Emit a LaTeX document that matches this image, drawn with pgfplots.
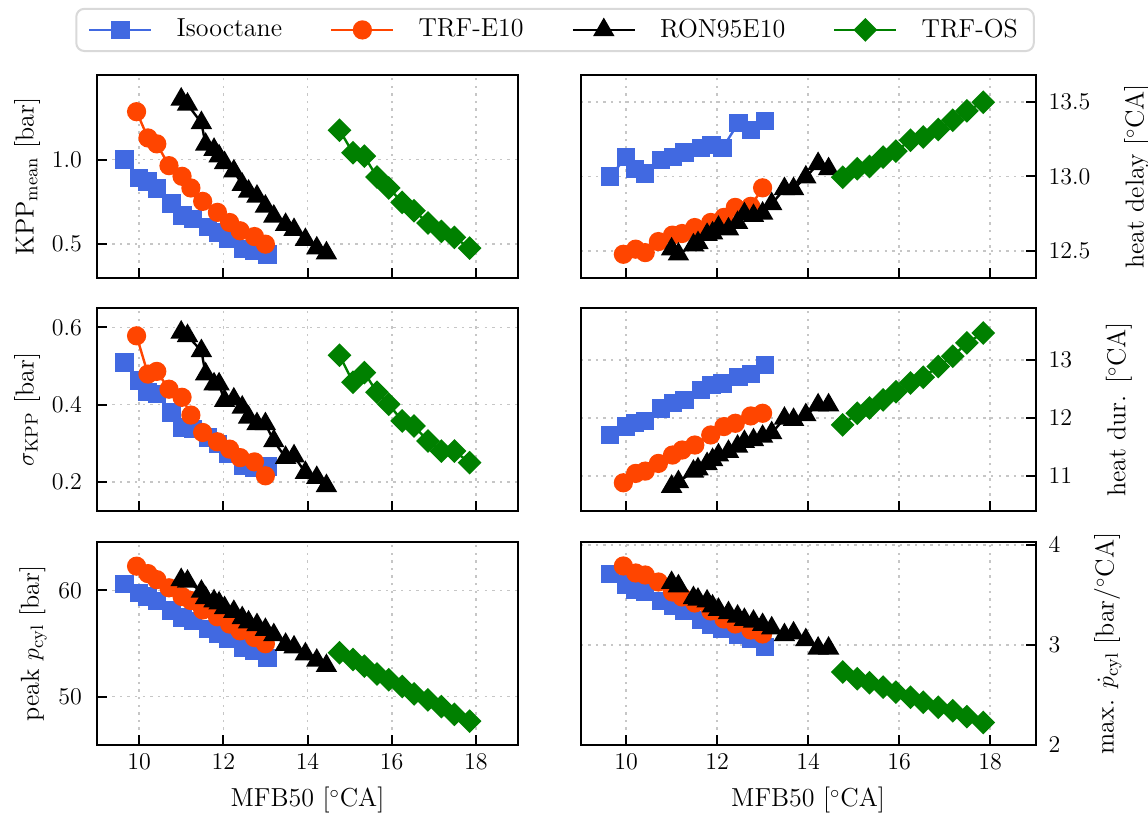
\documentclass[border=0pt]{standalone}
\usepackage{pgfplots}
\usepackage{pgfplotstable}
\pgfplotsset{compat=1.18}
\definecolor{cIso}{HTML}{4169E1}
\definecolor{cTrf}{HTML}{FF4500}
\definecolor{cOs}{HTML}{008000}
\newcommand{\fs}{\fontsize{13}{15}\selectfont}

% columns: a=KPPmean, b=heat delay, c=sigmaKPP, d=heat dur, e=peak p, f=max dp
\pgfplotstableread{
x a b c d e f
9.65 1.00 13.00 0.509 11.71 60.63 3.707
10.00 0.89 13.13 0.462 11.85 59.75 3.606
10.20 0.87 13.05 0.432 11.91 59.43 3.556
10.42 0.83 13.02 0.427 11.95 58.98 3.530
10.77 0.74 13.11 0.380 12.16 58.10 3.437
11.03 0.67 13.13 0.341 12.26 57.46 3.387
11.28 0.65 13.16 0.337 12.31 57.14 3.343
11.64 0.60 13.19 0.315 12.48 56.35 3.250
11.88 0.57 13.21 0.298 12.57 55.87 3.200
12.12 0.53 13.19 0.272 12.59 55.40 3.158
12.47 0.47 13.36 0.241 12.70 54.60 3.100
12.74 0.46 13.31 0.237 12.76 54.29 3.060
13.05 0.44 13.37 0.240 12.91 53.65 2.980
}\iso
\pgfplotstableread{
x a b c d e f
9.94 1.283 12.479 0.578 10.885 62.29 3.79
10.21 1.128 12.513 0.479 11.046 61.59 3.72
10.42 1.093 12.490 0.486 11.086 61.02 3.70
10.71 0.964 12.564 0.440 11.218 60.25 3.63
11.02 0.901 12.607 0.419 11.362 59.43 3.53
11.23 0.832 12.618 0.373 11.448 59.05 3.48
11.51 0.753 12.658 0.328 11.534 58.16 3.42
11.86 0.688 12.692 0.304 11.707 57.52 3.34
12.15 0.628 12.726 0.285 11.851 56.83 3.26
12.40 0.579 12.793 0.263 11.908 56.19 3.21
12.74 0.545 12.800 0.252 12.034 55.56 3.15
13.00 0.500 12.924 0.216 12.080 54.98 3.11
}\trf
\pgfplotstableread{
x a b c d e f
11.00 1.356 12.513 0.587 10.82 61.00 3.622
11.15 1.326 12.479 0.578 10.90 60.85 3.589
11.48 1.217 12.540 0.539 11.08 59.90 3.471
11.58 1.089 12.555 0.479 11.12 59.30 3.455
11.78 1.059 12.610 0.453 11.21 59.00 3.437
11.90 1.020 12.620 0.453 11.28 58.80 3.387
12.03 0.980 12.658 0.410 11.36 58.35 3.354
12.25 0.931 12.647 0.414 11.42 58.00 3.320
12.45 0.852 12.690 0.393 11.51 57.40 3.286
12.60 0.812 12.749 0.367 11.59 57.00 3.253
12.80 0.782 12.737 0.350 11.62 56.75 3.235
13.00 0.723 12.753 0.350 11.68 56.30 3.202
13.20 0.664 12.816 0.306 11.74 55.80 3.168
13.48 0.615 12.917 0.263 11.99 54.90 3.100
13.68 0.585 12.917 0.267 11.97 54.65 3.118
13.95 0.526 12.995 0.224 12.05 54.00 3.050
14.22 0.476 13.085 0.211 12.22 53.40 2.966
14.45 0.447 13.050 0.190 12.22 52.90 2.966
}\ron
\pgfplotstableread{
x a b c d e f
14.76 1.174 12.995 0.528 11.88 54.13 2.730
15.08 1.040 13.052 0.458 12.08 53.49 2.663
15.35 1.020 13.067 0.483 12.17 52.86 2.622
15.65 0.897 13.130 0.432 12.31 52.13 2.579
15.93 0.832 13.170 0.401 12.45 51.59 2.528
16.25 0.747 13.243 0.358 12.60 50.95 2.478
16.53 0.698 13.265 0.345 12.70 50.25 2.427
16.86 0.625 13.315 0.306 12.885 49.68 2.377
17.18 0.575 13.377 0.280 13.06 49.05 2.343
17.49 0.540 13.440 0.280 13.29 48.32 2.283
17.85 0.477 13.497 0.250 13.46 47.68 2.225
}\os

\pgfplotsset{
  base/.style={
    scale only axis, height=101.5pt,
    xmin=9, xmax=19, xtick={10,12,14,16,18},
    grid=major,
    major grid style={gray!45, line width=0.8pt, dash pattern=on 1.2pt off 2.6pt},
    tick align=inside, xtick pos=bottom,
    axis line style={line width=1.1pt},
    major tick length=5pt,
    every tick/.style={black, line width=1pt},
    tick label style={font=\fs},
    label style={font=\fs},
  },
  L/.style={base, width=210.5pt, ytick pos=left, yticklabel shift=3pt, ylabel shift=-3pt},
  R/.style={base, width=227.5pt, ytick pos=right, yticklabel pos=right,
    yticklabel shift=2pt, ylabel shift=8pt},
  dec1/.style={yticklabel style={/pgf/number format/.cd, fixed, fixed zerofill, precision=1}},
  sIso/.style={color=cIso, line width=1.2pt, mark=square*, mark size=4pt, mark options={solid}},
  sTrf/.style={color=cTrf, line width=1.2pt, mark=*, mark size=4.2pt, mark options={solid}},
  sRon/.style={color=black, line width=1.2pt, mark=triangle*, mark size=5pt, mark options={solid}},
  sOs/.style={color=cOs, line width=1.2pt, mark=square*, mark size=3.6pt, mark options={solid, rotate=45}},
}

\begin{document}
\fs
\begin{tikzpicture}
\path[use as bounding box] (0,0) rectangle (574pt,-411pt);

% Row 1 left
\begin{axis}[L, dec1, at={(48.5pt,-37.5pt)}, anchor=north west,
  ymin=0.3, ymax=1.5, ytick={0.5,1.0},
  ylabel={KPP$_{\mathrm{mean}}$ [bar]}, xticklabels={},
  legend columns=4,
  legend style={at={(1.088,1.222)}, anchor=center, font=\fs,
    draw=gray!30, line width=1pt, rounded corners=4pt,
    inner xsep=6pt, inner ysep=3pt,
    /tikz/every odd column/.append style={column sep=10pt},
    /tikz/every even column/.append style={column sep=22pt}},
  legend image code/.code={\draw[mark repeat=2,mark phase=2] plot coordinates {(0pt,0pt) (15.5pt,0pt) (31pt,0pt)};},
]
\addplot[sIso] table[x=x,y=a]{\iso};
\addplot[sTrf] table[x=x,y=a]{\trf};
\addplot[sRon] table[x=x,y=a]{\ron};
\addplot[sOs] table[x=x,y=a]{\os};
\legend{Isooctane, TRF-E10, RON95E10, TRF-OS}
\end{axis}

% Row 1 right
\begin{axis}[R, dec1, at={(290.3pt,-37.5pt)}, anchor=north west,
  ymin=12.32, ymax=13.68, ytick={12.5,13.0,13.5},
  ylabel={heat delay [$^{\circ}$CA]}, xticklabels={}]
\addplot[sIso] table[x=x,y=b]{\iso};
\addplot[sTrf] table[x=x,y=b]{\trf};
\addplot[sRon] table[x=x,y=b]{\ron};
\addplot[sOs] table[x=x,y=b]{\os};
\end{axis}

% Row 2 left
\begin{axis}[L, dec1, at={(48.5pt,-154pt)}, anchor=north west,
  ymin=0.125, ymax=0.65, ytick={0.2,0.4,0.6},
  ylabel={$\sigma_{\mathrm{KPP}}$ [bar]}, xticklabels={}]
\addplot[sIso] table[x=x,y=c]{\iso};
\addplot[sTrf] table[x=x,y=c]{\trf};
\addplot[sRon] table[x=x,y=c]{\ron};
\addplot[sOs] table[x=x,y=c]{\os};
\end{axis}

% Row 2 right
\begin{axis}[R, at={(290.3pt,-154pt)}, anchor=north west,
  ymin=10.4, ymax=13.89, ytick={11,12,13},
  ylabel={heat dur. [$^{\circ}$CA]}, xticklabels={}]
\addplot[sIso] table[x=x,y=d]{\iso};
\addplot[sTrf] table[x=x,y=d]{\trf};
\addplot[sRon] table[x=x,y=d]{\ron};
\addplot[sOs] table[x=x,y=d]{\os};
\end{axis}

% Row 3 left
\begin{axis}[L, at={(48.5pt,-271pt)}, anchor=north west,
  ymin=45.43, ymax=64.57, ytick={50,60},
  ylabel={peak $p_{\mathrm{cyl}}$ [bar]}, xlabel={MFB50 [$^{\circ}$CA]}]
\addplot[sIso] table[x=x,y=e]{\iso};
\addplot[sTrf] table[x=x,y=e]{\trf};
\addplot[sRon] table[x=x,y=e]{\ron};
\addplot[sOs] table[x=x,y=e]{\os};
\end{axis}

% Row 3 right
\begin{axis}[R, at={(290.3pt,-271pt)}, anchor=north west,
  ymin=2, ymax=4.03, ytick={2,3,4},
  ylabel={max. $\dot{p}_{\mathrm{cyl}}$ [bar/$^{\circ}$CA]}, xlabel={MFB50 [$^{\circ}$CA]}]
\addplot[sIso] table[x=x,y=f]{\iso};
\addplot[sTrf] table[x=x,y=f]{\trf};
\addplot[sRon] table[x=x,y=f]{\ron};
\addplot[sOs] table[x=x,y=f]{\os};
\end{axis}
\end{tikzpicture}
\end{document}
